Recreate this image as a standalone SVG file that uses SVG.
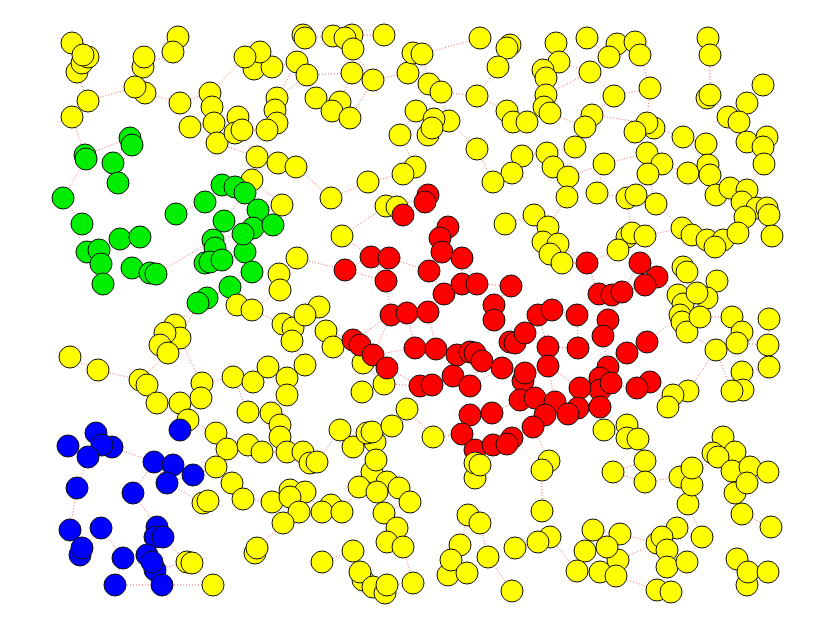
<svg xmlns="http://www.w3.org/2000/svg" width="830" height="640" viewBox="0 0 830 640">
<style>
circle{stroke:#111;stroke-width:1}
.y{fill:#ffff00}.g{fill:#00ee00}.r{fill:#ff0000}.b{fill:#0000ff}
.e{fill:none;stroke:#ff0000;stroke-width:1;stroke-dasharray:1 2;opacity:0.6}
</style>
<rect width="830" height="640" fill="#fff"/>
<g id="connectors">
<path class="e" d="M77 72L88 101M88 101L72 117M88 101L135 87M145 93L180 103M144 57L135 87M173 52L178 37M180 103L210 93M145 93L143 67M72 117L85 155M85 155L130 138M113 163L130 138M86 159L63 198M63 198L82 224M130 138L118 183M118 183L113 163M245 57L210 93M254 69L272 67M272 67L297 62M260 52L245 57M277 98L297 62M277 98L307 75M214 123L238 117M242 130L267 130M217 143L257 157M257 157L278 163M278 163L296 167M252 180L257 157M252 180L282 205M282 205L258 210M222 185L252 180M205 202L222 185M176 214L205 202M224 221L245 193M235 187L258 210M305 38L333 36M352 35L384 35M353 49L373 80M307 75L352 73M316 98L340 102M350 118L373 80M297 62L307 75M373 80L408 73M408 73L413 53M422 54L480 38M429 84L441 92M441 92L477 96M416 111L400 135M449 121L477 149M477 96L498 67M498 67L507 48M513 122L527 122M527 122L544 107M477 149L493 182M522 156L547 153M512 173L493 182M296 167L331 198M331 198L368 182M368 182L403 174M415 167L400 135M386 206L342 236M397 207L428 195M556 43L559 62M559 62L590 72M587 38L609 57M609 57L617 44M640 55L650 88M590 72L614 96M614 96L592 115M546 95L590 72M592 115L647 123M650 88L647 123M683 137L706 144M710 55L710 95M710 95L728 117M739 122L747 142M747 103L763 85M575 147L592 115M547 153L575 147M604 164L647 153M662 164L688 173M708 165L683 137M764 164L747 142M568 177L604 164M597 193L627 198M656 204L648 174M716 195L730 188M742 202L716 195M567 197L548 227M627 198L632 233M656 204L682 228M120 239L140 237M87 252L120 239M101 264L103 284M132 268L150 273M156 274L213 240M213 240L243 234M222 260L245 252M252 272L245 252M230 287L252 272M207 298L230 287M198 303L175 325M273 225L243 234M279 274L297 258M280 290L252 310M237 305L252 310M252 310L283 324M283 324L305 315M292 341L305 365M180 338L201 383M168 353L140 380M70 357L98 370M98 370L140 380M147 385L157 403M202 383L233 377M253 382L268 367M287 378L305 365M287 395L271 413M201 398L188 420M180 403L157 403M233 377L248 412M342 236L371 257M345 270L371 257M389 258L429 271M386 281L391 315M407 313L428 312M444 294L462 284M477 284L511 286M494 305L494 320M462 258L462 284M440 238L448 227M505 224L534 215M353 340L326 331M373 355L415 348M436 349L457 355M482 361L502 368M453 376L470 386M420 386L432 385M502 368L525 373M510 342L525 333M538 315L552 310M523 381L535 398M363 363L384 384M362 392L384 384M384 384L420 386M407 409L392 426M428 312L444 294M494 320L510 342M391 315L353 340M333 347L353 340M319 307L305 315M345 270L297 258M548 227L543 242M558 244L587 263M562 263L587 263M618 250L587 263M645 236L682 228M692 235L707 240M723 240L738 233M745 217L738 233M683 267L687 272M717 281L697 293M678 295L657 277M687 332L716 350M732 317L742 332M769 319L769 345M769 367L742 372M743 390L732 391M688 391L673 395M668 407L650 382M640 263L657 277M599 294L622 292M577 315L552 310M608 320L603 336M647 342L627 353M578 348L548 347M608 367L600 378M611 383L637 388M600 390L580 388M600 407L578 408M555 402L548 366M680 315L647 342M700 317L732 317M716 350L737 343M68 446L88 457M96 433L102 445M77 488L88 457M154 462L173 465M167 483L193 475M133 493L154 462M180 430L188 420M70 530L77 488M101 528L82 548M123 558L147 555M157 527L163 537M115 585L162 585M162 585L213 585M155 570L187 562M193 475L216 467M216 433L227 449M232 483L243 499M203 503L167 483M280 425L280 437M248 445L262 452M287 452L303 452M317 462L340 430M353 447L367 433M375 442L392 426M376 460L372 472M359 487L377 492M399 488L410 502M384 513L397 528M387 542L403 547M272 502L290 490M305 492L322 512M331 505L342 512M299 512L283 523M257 548L283 523M322 562L353 551M360 572L373 587M387 585L413 583M433 437L462 434M475 463L475 478M468 515L480 523M460 545L451 560M467 573L488 557M515 548L537 542M512 591L488 557M342 512L359 487M433 437L407 409M549 461L542 470M542 511L542 470M550 537L577 571M604 430L627 425M638 439L645 461M645 482L613 472M593 530L620 534M585 551L607 547M600 572L616 576M657 590L671 592M662 537L677 528M667 567L687 562M702 537L688 504M680 477L692 468M692 485L713 453M723 437L735 452M732 471L750 467M768 472L747 483M735 493L742 514M771 527L742 514M737 559L748 572M747 585L768 572M618 560L657 543M645 482L680 477M620 534L657 543"/>
<path class="e" d="M345 270L386 281M371 257L386 281M429 271L444 294M442 252L462 258M462 258L477 284M511 286L494 305M407 313L415 348M428 312L436 349M391 315L373 355M387 368L420 386M457 355L453 376M470 386L502 368M482 361L470 386M525 333L538 315M538 315L548 347M548 347L548 366M548 366L580 388M577 315L578 348M603 336L608 367M627 353L608 367M637 388L650 382M599 294L587 263M622 292L640 263M645 285L622 292M608 320L622 292M523 381L548 366M535 398L545 415M555 402L568 414M600 407L611 383M470 415L492 413M462 434L470 415M475 450L493 445M512 438L533 427M492 413L520 400M453 376L432 385M420 386L407 409M403 215L428 195M440 238L429 271M549 461L533 427M604 430L600 407M475 463L475 450M143 67L173 52M190 127L214 123M210 93L212 107M316 98L297 62M332 111L350 118M340 102L352 73M422 54L429 84M416 111L434 119M449 121L441 92M507 111L477 96M507 111L513 122M522 156L512 173M547 153L553 167M568 177L567 197M597 193L604 164M636 195L648 174M688 173L710 175M710 175L730 188M747 190L764 164M757 208L767 208M614 96L650 88M617 44L635 42M559 62L546 78M543 70L546 95M546 95L544 107M550 113L585 127M585 127L575 147M635 132L647 153M654 128L683 137M706 144L708 165M728 117L747 103M708 38L710 55M543 242L550 254M550 254L562 263M618 250L627 237M632 233L645 236M682 228L692 235M707 240L715 247M715 247L723 240M683 267L678 295M697 293L707 298M683 304L680 315M682 322L687 332M700 317L687 332M742 332L737 343M737 343L768 345M742 372L743 390M732 391L716 350M688 391L716 350M668 407L673 395M717 281L707 298M279 274L280 290M292 341L283 324M175 325L165 333M160 345L168 353M180 338L198 303M140 380L147 385M157 403L147 385M202 383L201 398M233 377L253 382M268 367L287 378M287 378L287 395M248 412L271 413M271 413L280 425M280 437L287 452M262 452L287 452M303 452L310 463M340 430L353 447M372 432L375 442M375 442L376 460M372 472L359 487M377 492L387 482M387 482L399 488M410 502L384 513M397 528L387 542M290 497L299 512M299 512L322 512M283 523L322 512M353 551L360 572M363 580L373 587M403 547L413 583M451 560L448 575M460 545L468 515M480 523L488 557M627 438L638 439M604 430L627 438M613 472L645 461M645 461L645 482M593 530L585 551M607 547L618 560M577 571L600 572M616 576L657 590M667 550L667 567M687 562L702 537M688 504L692 485M692 468L713 453M718 457L735 452M735 452L750 467M747 483L735 493M768 472L750 467M742 514L735 493M737 559L747 585M102 445L112 447M112 447L154 462M173 465L193 475M154 462L167 483M101 528L123 558M123 558L115 585M147 555L152 562M157 527L133 493M163 537L187 562M192 563L213 585M188 420L216 433M216 467L232 483M243 499L272 502M227 449L248 445"/>
</g>
<g id="nodes">
<g id="n1"><circle class="y" r="11" cx="72" cy="43"/></g>
<g id="n2"><circle class="y" r="11" cx="77" cy="72"/></g>
<g id="n3"><circle class="y" r="11" cx="82" cy="63"/></g>
<g id="n4"><circle class="y" r="11" cx="88" cy="57"/></g>
<g id="n5"><circle class="y" r="11" cx="83" cy="55"/></g>
<g id="n6"><circle class="y" r="11" cx="88" cy="101"/></g>
<g id="n7"><circle class="y" r="11" cx="72" cy="117"/></g>
<g id="n8"><circle class="y" r="11" cx="143" cy="67"/></g>
<g id="n9"><circle class="y" r="11" cx="144" cy="57"/></g>
<g id="n10"><circle class="y" r="11" cx="145" cy="93"/></g>
<g id="n11"><circle class="y" r="11" cx="135" cy="87"/></g>
<g id="n12"><circle class="y" r="11" cx="178" cy="37"/></g>
<g id="n13"><circle class="y" r="11" cx="173" cy="52"/></g>
<g id="n14"><circle class="y" r="11" cx="180" cy="103"/></g>
<g id="n15"><circle class="y" r="11" cx="254" cy="69"/></g>
<g id="n16"><circle class="y" r="11" cx="272" cy="67"/></g>
<g id="n17"><circle class="y" r="11" cx="260" cy="52"/></g>
<g id="n18"><circle class="y" r="11" cx="245" cy="57"/></g>
<g id="n19"><circle class="y" r="11" cx="210" cy="93"/></g>
<g id="n20"><circle class="y" r="11" cx="212" cy="107"/></g>
<g id="n21"><circle class="y" r="11" cx="190" cy="127"/></g>
<g id="n22"><circle class="y" r="11" cx="214" cy="123"/></g>
<g id="n23"><circle class="y" r="11" cx="217" cy="143"/></g>
<g id="n24"><circle class="y" r="11" cx="238" cy="117"/></g>
<g id="n25"><circle class="y" r="11" cx="235" cy="133"/></g>
<g id="n26"><circle class="y" r="11" cx="242" cy="130"/></g>
<g id="n27"><circle class="y" r="11" cx="277" cy="98"/></g>
<g id="n28"><circle class="y" r="11" cx="275" cy="110"/></g>
<g id="n29"><circle class="y" r="11" cx="277" cy="123"/></g>
<g id="n30"><circle class="y" r="11" cx="267" cy="130"/></g>
<g id="n31"><circle class="y" r="11" cx="257" cy="157"/></g>
<g id="n32"><circle class="y" r="11" cx="278" cy="163"/></g>
<g id="n33"><circle class="y" r="11" cx="252" cy="180"/></g>
<g id="n34"><circle class="y" r="11" cx="282" cy="205"/></g>
<g id="n35"><circle class="g" r="11" cx="130" cy="138"/></g>
<g id="n36"><circle class="g" r="11" cx="132" cy="145"/></g>
<g id="n37"><circle class="g" r="11" cx="85" cy="155"/></g>
<g id="n38"><circle class="g" r="11" cx="86" cy="159"/></g>
<g id="n39"><circle class="g" r="11" cx="113" cy="163"/></g>
<g id="n40"><circle class="g" r="11" cx="118" cy="183"/></g>
<g id="n41"><circle class="g" r="11" cx="63" cy="198"/></g>
<g id="n42"><circle class="g" r="11" cx="82" cy="224"/></g>
<g id="n43"><circle class="g" r="11" cx="222" cy="185"/></g>
<g id="n44"><circle class="g" r="11" cx="235" cy="187"/></g>
<g id="n45"><circle class="g" r="11" cx="245" cy="193"/></g>
<g id="n46"><circle class="g" r="11" cx="205" cy="202"/></g>
<g id="n47"><circle class="g" r="11" cx="176" cy="214"/></g>
<g id="n48"><circle class="g" r="11" cx="224" cy="221"/></g>
<g id="n49"><circle class="g" r="11" cx="258" cy="210"/></g>
<g id="n50"><circle class="y" r="11" cx="303" cy="35"/></g>
<g id="n51"><circle class="y" r="11" cx="305" cy="38"/></g>
<g id="n52"><circle class="y" r="11" cx="333" cy="36"/></g>
<g id="n53"><circle class="y" r="11" cx="352" cy="35"/></g>
<g id="n54"><circle class="y" r="11" cx="345" cy="38"/></g>
<g id="n55"><circle class="y" r="11" cx="353" cy="49"/></g>
<g id="n56"><circle class="y" r="11" cx="384" cy="35"/></g>
<g id="n57"><circle class="y" r="11" cx="297" cy="62"/></g>
<g id="n58"><circle class="y" r="11" cx="307" cy="75"/></g>
<g id="n59"><circle class="y" r="11" cx="352" cy="73"/></g>
<g id="n60"><circle class="y" r="11" cx="373" cy="80"/></g>
<g id="n61"><circle class="y" r="11" cx="316" cy="98"/></g>
<g id="n62"><circle class="y" r="11" cx="340" cy="102"/></g>
<g id="n63"><circle class="y" r="11" cx="332" cy="111"/></g>
<g id="n64"><circle class="y" r="11" cx="350" cy="118"/></g>
<g id="n65"><circle class="y" r="11" cx="408" cy="73"/></g>
<g id="n66"><circle class="y" r="11" cx="413" cy="53"/></g>
<g id="n67"><circle class="y" r="11" cx="422" cy="54"/></g>
<g id="n68"><circle class="y" r="11" cx="429" cy="84"/></g>
<g id="n69"><circle class="y" r="11" cx="441" cy="92"/></g>
<g id="n70"><circle class="y" r="11" cx="416" cy="111"/></g>
<g id="n71"><circle class="y" r="11" cx="449" cy="121"/></g>
<g id="n72"><circle class="y" r="11" cx="434" cy="119"/></g>
<g id="n73"><circle class="y" r="11" cx="428" cy="135"/></g>
<g id="n74"><circle class="y" r="11" cx="432" cy="128"/></g>
<g id="n75"><circle class="y" r="11" cx="400" cy="135"/></g>
<g id="n76"><circle class="y" r="11" cx="480" cy="38"/></g>
<g id="n77"><circle class="y" r="11" cx="510" cy="45"/></g>
<g id="n78"><circle class="y" r="11" cx="507" cy="48"/></g>
<g id="n79"><circle class="y" r="11" cx="498" cy="67"/></g>
<g id="n80"><circle class="y" r="11" cx="477" cy="96"/></g>
<g id="n81"><circle class="y" r="11" cx="507" cy="111"/></g>
<g id="n82"><circle class="y" r="11" cx="513" cy="122"/></g>
<g id="n83"><circle class="y" r="11" cx="527" cy="122"/></g>
<g id="n84"><circle class="y" r="11" cx="477" cy="149"/></g>
<g id="n85"><circle class="y" r="11" cx="522" cy="156"/></g>
<g id="n86"><circle class="y" r="11" cx="512" cy="173"/></g>
<g id="n87"><circle class="y" r="11" cx="493" cy="182"/></g>
<g id="n88"><circle class="y" r="11" cx="296" cy="167"/></g>
<g id="n89"><circle class="y" r="11" cx="368" cy="182"/></g>
<g id="n90"><circle class="y" r="11" cx="331" cy="198"/></g>
<g id="n91"><circle class="y" r="11" cx="415" cy="167"/></g>
<g id="n92"><circle class="y" r="11" cx="403" cy="174"/></g>
<g id="n93"><circle class="y" r="11" cx="386" cy="206"/></g>
<g id="n94"><circle class="y" r="11" cx="397" cy="207"/></g>
<g id="n95"><circle class="r" r="11" cx="428" cy="195"/></g>
<g id="n96"><circle class="r" r="11" cx="425" cy="202"/></g>
<g id="n97"><circle class="y" r="11" cx="556" cy="43"/></g>
<g id="n98"><circle class="y" r="11" cx="587" cy="38"/></g>
<g id="n99"><circle class="y" r="11" cx="617" cy="44"/></g>
<g id="n100"><circle class="y" r="11" cx="635" cy="42"/></g>
<g id="n101"><circle class="y" r="11" cx="640" cy="55"/></g>
<g id="n102"><circle class="y" r="11" cx="609" cy="57"/></g>
<g id="n103"><circle class="y" r="11" cx="559" cy="62"/></g>
<g id="n104"><circle class="y" r="11" cx="543" cy="70"/></g>
<g id="n105"><circle class="y" r="11" cx="546" cy="78"/></g>
<g id="n106"><circle class="y" r="11" cx="590" cy="72"/></g>
<g id="n107"><circle class="y" r="11" cx="708" cy="38"/></g>
<g id="n108"><circle class="y" r="11" cx="710" cy="55"/></g>
<g id="n109"><circle class="y" r="11" cx="763" cy="85"/></g>
<g id="n110"><circle class="y" r="11" cx="650" cy="88"/></g>
<g id="n111"><circle class="y" r="11" cx="546" cy="95"/></g>
<g id="n112"><circle class="y" r="11" cx="544" cy="107"/></g>
<g id="n113"><circle class="y" r="11" cx="550" cy="113"/></g>
<g id="n114"><circle class="y" r="11" cx="614" cy="96"/></g>
<g id="n115"><circle class="y" r="11" cx="707" cy="98"/></g>
<g id="n116"><circle class="y" r="11" cx="710" cy="95"/></g>
<g id="n117"><circle class="y" r="11" cx="747" cy="103"/></g>
<g id="n118"><circle class="y" r="11" cx="728" cy="117"/></g>
<g id="n119"><circle class="y" r="11" cx="739" cy="122"/></g>
<g id="n120"><circle class="y" r="11" cx="592" cy="115"/></g>
<g id="n121"><circle class="y" r="11" cx="585" cy="127"/></g>
<g id="n122"><circle class="y" r="11" cx="654" cy="128"/></g>
<g id="n123"><circle class="y" r="11" cx="647" cy="123"/></g>
<g id="n124"><circle class="y" r="11" cx="635" cy="132"/></g>
<g id="n125"><circle class="y" r="11" cx="683" cy="137"/></g>
<g id="n126"><circle class="y" r="11" cx="706" cy="144"/></g>
<g id="n127"><circle class="y" r="11" cx="747" cy="142"/></g>
<g id="n128"><circle class="y" r="11" cx="767" cy="137"/></g>
<g id="n129"><circle class="y" r="11" cx="763" cy="147"/></g>
<g id="n130"><circle class="y" r="11" cx="575" cy="147"/></g>
<g id="n131"><circle class="y" r="11" cx="547" cy="153"/></g>
<g id="n132"><circle class="y" r="11" cx="553" cy="167"/></g>
<g id="n133"><circle class="y" r="11" cx="604" cy="164"/></g>
<g id="n134"><circle class="y" r="11" cx="647" cy="153"/></g>
<g id="n135"><circle class="y" r="11" cx="662" cy="164"/></g>
<g id="n136"><circle class="y" r="11" cx="648" cy="174"/></g>
<g id="n137"><circle class="y" r="11" cx="688" cy="173"/></g>
<g id="n138"><circle class="y" r="11" cx="708" cy="165"/></g>
<g id="n139"><circle class="y" r="11" cx="710" cy="175"/></g>
<g id="n140"><circle class="y" r="11" cx="764" cy="164"/></g>
<g id="n141"><circle class="y" r="11" cx="568" cy="177"/></g>
<g id="n142"><circle class="y" r="11" cx="567" cy="197"/></g>
<g id="n143"><circle class="y" r="11" cx="597" cy="193"/></g>
<g id="n144"><circle class="y" r="11" cx="627" cy="198"/></g>
<g id="n145"><circle class="y" r="11" cx="636" cy="195"/></g>
<g id="n146"><circle class="y" r="11" cx="656" cy="204"/></g>
<g id="n147"><circle class="y" r="11" cx="716" cy="195"/></g>
<g id="n148"><circle class="y" r="11" cx="730" cy="188"/></g>
<g id="n149"><circle class="y" r="11" cx="747" cy="190"/></g>
<g id="n150"><circle class="y" r="11" cx="742" cy="202"/></g>
<g id="n151"><circle class="y" r="11" cx="757" cy="208"/></g>
<g id="n152"><circle class="y" r="11" cx="767" cy="208"/></g>
<g id="n153"><circle class="y" r="11" cx="769" cy="215"/></g>
<g id="n154"><circle class="y" r="11" cx="745" cy="217"/></g>
<g id="n155"><circle class="y" r="11" cx="534" cy="215"/></g>
<g id="n156"><circle class="y" r="11" cx="548" cy="227"/></g>
<g id="n157"><circle class="g" r="11" cx="120" cy="239"/></g>
<g id="n158"><circle class="g" r="11" cx="140" cy="237"/></g>
<g id="n159"><circle class="g" r="11" cx="87" cy="252"/></g>
<g id="n160"><circle class="g" r="11" cx="99" cy="250"/></g>
<g id="n161"><circle class="g" r="11" cx="101" cy="264"/></g>
<g id="n162"><circle class="g" r="11" cx="103" cy="284"/></g>
<g id="n163"><circle class="g" r="11" cx="132" cy="268"/></g>
<g id="n164"><circle class="g" r="11" cx="150" cy="273"/></g>
<g id="n165"><circle class="g" r="11" cx="156" cy="274"/></g>
<g id="n166"><circle class="g" r="11" cx="213" cy="240"/></g>
<g id="n167"><circle class="g" r="11" cx="215" cy="248"/></g>
<g id="n168"><circle class="g" r="11" cx="205" cy="263"/></g>
<g id="n169"><circle class="g" r="11" cx="210" cy="262"/></g>
<g id="n170"><circle class="g" r="11" cx="222" cy="260"/></g>
<g id="n171"><circle class="g" r="11" cx="245" cy="252"/></g>
<g id="n172"><circle class="g" r="11" cx="253" cy="228"/></g>
<g id="n173"><circle class="g" r="11" cx="243" cy="234"/></g>
<g id="n174"><circle class="g" r="11" cx="252" cy="272"/></g>
<g id="n175"><circle class="g" r="11" cx="230" cy="287"/></g>
<g id="n176"><circle class="g" r="11" cx="207" cy="298"/></g>
<g id="n177"><circle class="g" r="11" cx="198" cy="303"/></g>
<g id="n178"><circle class="g" r="11" cx="273" cy="225"/></g>
<g id="n179"><circle class="y" r="11" cx="297" cy="258"/></g>
<g id="n180"><circle class="y" r="11" cx="279" cy="274"/></g>
<g id="n181"><circle class="y" r="11" cx="280" cy="290"/></g>
<g id="n182"><circle class="y" r="11" cx="237" cy="305"/></g>
<g id="n183"><circle class="y" r="11" cx="252" cy="310"/></g>
<g id="n184"><circle class="y" r="11" cx="283" cy="324"/></g>
<g id="n185"><circle class="y" r="11" cx="293" cy="328"/></g>
<g id="n186"><circle class="y" r="11" cx="292" cy="341"/></g>
<g id="n187"><circle class="y" r="11" cx="175" cy="325"/></g>
<g id="n188"><circle class="y" r="11" cx="180" cy="338"/></g>
<g id="n189"><circle class="y" r="11" cx="165" cy="333"/></g>
<g id="n190"><circle class="y" r="11" cx="160" cy="345"/></g>
<g id="n191"><circle class="y" r="11" cx="168" cy="353"/></g>
<g id="n192"><circle class="y" r="11" cx="70" cy="357"/></g>
<g id="n193"><circle class="y" r="11" cx="98" cy="370"/></g>
<g id="n194"><circle class="y" r="11" cx="140" cy="380"/></g>
<g id="n195"><circle class="y" r="11" cx="147" cy="385"/></g>
<g id="n196"><circle class="y" r="11" cx="202" cy="383"/></g>
<g id="n197"><circle class="y" r="11" cx="201" cy="398"/></g>
<g id="n198"><circle class="y" r="11" cx="233" cy="377"/></g>
<g id="n199"><circle class="y" r="11" cx="253" cy="382"/></g>
<g id="n200"><circle class="y" r="11" cx="268" cy="367"/></g>
<g id="n201"><circle class="y" r="11" cx="287" cy="378"/></g>
<g id="n202"><circle class="y" r="11" cx="287" cy="395"/></g>
<g id="n203"><circle class="y" r="11" cx="157" cy="403"/></g>
<g id="n204"><circle class="y" r="11" cx="180" cy="403"/></g>
<g id="n205"><circle class="y" r="11" cx="188" cy="420"/></g>
<g id="n206"><circle class="y" r="11" cx="248" cy="412"/></g>
<g id="n207"><circle class="y" r="11" cx="271" cy="413"/></g>
<g id="n208"><circle class="y" r="11" cx="342" cy="236"/></g>
<g id="n209"><circle class="y" r="11" cx="319" cy="307"/></g>
<g id="n210"><circle class="y" r="11" cx="305" cy="315"/></g>
<g id="n211"><circle class="y" r="11" cx="326" cy="331"/></g>
<g id="n212"><circle class="y" r="11" cx="333" cy="347"/></g>
<g id="n213"><circle class="y" r="11" cx="305" cy="365"/></g>
<g id="n214"><circle class="y" r="11" cx="363" cy="363"/></g>
<g id="n215"><circle class="y" r="11" cx="384" cy="384"/></g>
<g id="n216"><circle class="y" r="11" cx="362" cy="392"/></g>
<g id="n217"><circle class="y" r="11" cx="407" cy="409"/></g>
<g id="n218"><circle class="y" r="11" cx="505" cy="224"/></g>
<g id="n219"><circle class="r" r="11" cx="403" cy="215"/></g>
<g id="n220"><circle class="r" r="11" cx="448" cy="227"/></g>
<g id="n221"><circle class="r" r="11" cx="440" cy="238"/></g>
<g id="n222"><circle class="r" r="11" cx="442" cy="252"/></g>
<g id="n223"><circle class="r" r="11" cx="462" cy="258"/></g>
<g id="n224"><circle class="r" r="11" cx="371" cy="257"/></g>
<g id="n225"><circle class="r" r="11" cx="389" cy="258"/></g>
<g id="n226"><circle class="r" r="11" cx="345" cy="270"/></g>
<g id="n227"><circle class="r" r="11" cx="386" cy="281"/></g>
<g id="n228"><circle class="r" r="11" cx="429" cy="271"/></g>
<g id="n229"><circle class="r" r="11" cx="444" cy="294"/></g>
<g id="n230"><circle class="r" r="11" cx="462" cy="284"/></g>
<g id="n231"><circle class="r" r="11" cx="477" cy="284"/></g>
<g id="n232"><circle class="r" r="11" cx="511" cy="286"/></g>
<g id="n233"><circle class="r" r="11" cx="391" cy="315"/></g>
<g id="n234"><circle class="r" r="11" cx="407" cy="313"/></g>
<g id="n235"><circle class="r" r="11" cx="428" cy="312"/></g>
<g id="n236"><circle class="r" r="11" cx="494" cy="305"/></g>
<g id="n237"><circle class="r" r="11" cx="494" cy="320"/></g>
<g id="n238"><circle class="r" r="11" cx="353" cy="340"/></g>
<g id="n239"><circle class="r" r="11" cx="360" cy="345"/></g>
<g id="n240"><circle class="r" r="11" cx="373" cy="355"/></g>
<g id="n241"><circle class="r" r="11" cx="387" cy="368"/></g>
<g id="n242"><circle class="r" r="11" cx="415" cy="348"/></g>
<g id="n243"><circle class="r" r="11" cx="436" cy="349"/></g>
<g id="n244"><circle class="r" r="11" cx="457" cy="355"/></g>
<g id="n245"><circle class="r" r="11" cx="470" cy="352"/></g>
<g id="n246"><circle class="r" r="11" cx="475" cy="353"/></g>
<g id="n247"><circle class="r" r="11" cx="482" cy="361"/></g>
<g id="n248"><circle class="r" r="11" cx="453" cy="376"/></g>
<g id="n249"><circle class="r" r="11" cx="470" cy="386"/></g>
<g id="n250"><circle class="r" r="11" cx="420" cy="386"/></g>
<g id="n251"><circle class="r" r="11" cx="432" cy="385"/></g>
<g id="n252"><circle class="r" r="11" cx="502" cy="368"/></g>
<g id="n253"><circle class="r" r="11" cx="510" cy="342"/></g>
<g id="n254"><circle class="r" r="11" cx="515" cy="343"/></g>
<g id="n255"><circle class="r" r="11" cx="525" cy="333"/></g>
<g id="n256"><circle class="r" r="11" cx="538" cy="315"/></g>
<g id="n257"><circle class="r" r="11" cx="523" cy="381"/></g>
<g id="n258"><circle class="r" r="11" cx="525" cy="373"/></g>
<g id="n259"><circle class="r" r="11" cx="520" cy="400"/></g>
<g id="n260"><circle class="r" r="11" cx="535" cy="398"/></g>
<g id="n261"><circle class="y" r="11" cx="543" cy="242"/></g>
<g id="n262"><circle class="y" r="11" cx="558" cy="244"/></g>
<g id="n263"><circle class="y" r="11" cx="550" cy="254"/></g>
<g id="n264"><circle class="y" r="11" cx="562" cy="263"/></g>
<g id="n265"><circle class="y" r="11" cx="627" cy="237"/></g>
<g id="n266"><circle class="y" r="11" cx="618" cy="250"/></g>
<g id="n267"><circle class="y" r="11" cx="632" cy="233"/></g>
<g id="n268"><circle class="y" r="11" cx="645" cy="236"/></g>
<g id="n269"><circle class="y" r="11" cx="682" cy="228"/></g>
<g id="n270"><circle class="y" r="11" cx="692" cy="235"/></g>
<g id="n271"><circle class="y" r="11" cx="707" cy="240"/></g>
<g id="n272"><circle class="y" r="11" cx="723" cy="240"/></g>
<g id="n273"><circle class="y" r="11" cx="715" cy="247"/></g>
<g id="n274"><circle class="y" r="11" cx="738" cy="233"/></g>
<g id="n275"><circle class="y" r="11" cx="772" cy="236"/></g>
<g id="n276"><circle class="y" r="11" cx="683" cy="267"/></g>
<g id="n277"><circle class="y" r="11" cx="687" cy="272"/></g>
<g id="n278"><circle class="y" r="11" cx="717" cy="281"/></g>
<g id="n279"><circle class="y" r="11" cx="678" cy="295"/></g>
<g id="n280"><circle class="y" r="11" cx="683" cy="304"/></g>
<g id="n281"><circle class="y" r="11" cx="680" cy="315"/></g>
<g id="n282"><circle class="y" r="11" cx="682" cy="322"/></g>
<g id="n283"><circle class="y" r="11" cx="687" cy="332"/></g>
<g id="n284"><circle class="y" r="11" cx="707" cy="298"/></g>
<g id="n285"><circle class="y" r="11" cx="697" cy="293"/></g>
<g id="n286"><circle class="y" r="11" cx="700" cy="317"/></g>
<g id="n287"><circle class="y" r="11" cx="732" cy="317"/></g>
<g id="n288"><circle class="y" r="11" cx="742" cy="332"/></g>
<g id="n289"><circle class="y" r="11" cx="737" cy="343"/></g>
<g id="n290"><circle class="y" r="11" cx="716" cy="350"/></g>
<g id="n291"><circle class="y" r="11" cx="769" cy="319"/></g>
<g id="n292"><circle class="y" r="11" cx="768" cy="345"/></g>
<g id="n293"><circle class="y" r="11" cx="769" cy="367"/></g>
<g id="n294"><circle class="y" r="11" cx="742" cy="372"/></g>
<g id="n295"><circle class="y" r="11" cx="743" cy="390"/></g>
<g id="n296"><circle class="y" r="11" cx="732" cy="391"/></g>
<g id="n297"><circle class="y" r="11" cx="688" cy="391"/></g>
<g id="n298"><circle class="y" r="11" cx="673" cy="395"/></g>
<g id="n299"><circle class="y" r="11" cx="668" cy="407"/></g>
<g id="n300"><circle class="r" r="11" cx="587" cy="263"/></g>
<g id="n301"><circle class="r" r="11" cx="640" cy="263"/></g>
<g id="n302"><circle class="r" r="11" cx="657" cy="277"/></g>
<g id="n303"><circle class="r" r="11" cx="645" cy="285"/></g>
<g id="n304"><circle class="r" r="11" cx="599" cy="294"/></g>
<g id="n305"><circle class="r" r="11" cx="612" cy="295"/></g>
<g id="n306"><circle class="r" r="11" cx="622" cy="292"/></g>
<g id="n307"><circle class="r" r="11" cx="552" cy="310"/></g>
<g id="n308"><circle class="r" r="11" cx="577" cy="315"/></g>
<g id="n309"><circle class="r" r="11" cx="608" cy="320"/></g>
<g id="n310"><circle class="r" r="11" cx="603" cy="336"/></g>
<g id="n311"><circle class="r" r="11" cx="647" cy="342"/></g>
<g id="n312"><circle class="r" r="11" cx="627" cy="353"/></g>
<g id="n313"><circle class="r" r="11" cx="578" cy="348"/></g>
<g id="n314"><circle class="r" r="11" cx="548" cy="347"/></g>
<g id="n315"><circle class="r" r="11" cx="548" cy="366"/></g>
<g id="n316"><circle class="r" r="11" cx="608" cy="367"/></g>
<g id="n317"><circle class="r" r="11" cx="600" cy="378"/></g>
<g id="n318"><circle class="r" r="11" cx="600" cy="390"/></g>
<g id="n319"><circle class="r" r="11" cx="611" cy="383"/></g>
<g id="n320"><circle class="r" r="11" cx="580" cy="388"/></g>
<g id="n321"><circle class="r" r="11" cx="650" cy="382"/></g>
<g id="n322"><circle class="r" r="11" cx="637" cy="388"/></g>
<g id="n323"><circle class="r" r="11" cx="600" cy="407"/></g>
<g id="n324"><circle class="r" r="11" cx="555" cy="402"/></g>
<g id="n325"><circle class="r" r="11" cx="545" cy="415"/></g>
<g id="n326"><circle class="r" r="11" cx="578" cy="408"/></g>
<g id="n327"><circle class="r" r="11" cx="568" cy="414"/></g>
<g id="n328"><circle class="r" r="11" cx="533" cy="427"/></g>
<g id="n329"><circle class="r" r="11" cx="470" cy="415"/></g>
<g id="n330"><circle class="r" r="11" cx="492" cy="413"/></g>
<g id="n331"><circle class="r" r="11" cx="462" cy="434"/></g>
<g id="n332"><circle class="r" r="11" cx="475" cy="450"/></g>
<g id="n333"><circle class="r" r="11" cx="493" cy="445"/></g>
<g id="n334"><circle class="r" r="11" cx="512" cy="438"/></g>
<g id="n335"><circle class="r" r="11" cx="507" cy="444"/></g>
<g id="n336"><circle class="y" r="11" cx="216" cy="433"/></g>
<g id="n337"><circle class="y" r="11" cx="227" cy="449"/></g>
<g id="n338"><circle class="y" r="11" cx="216" cy="467"/></g>
<g id="n339"><circle class="y" r="11" cx="232" cy="483"/></g>
<g id="n340"><circle class="y" r="11" cx="203" cy="503"/></g>
<g id="n341"><circle class="y" r="11" cx="208" cy="501"/></g>
<g id="n342"><circle class="y" r="11" cx="243" cy="499"/></g>
<g id="n343"><circle class="y" r="11" cx="187" cy="562"/></g>
<g id="n344"><circle class="y" r="11" cx="192" cy="563"/></g>
<g id="n345"><circle class="y" r="11" cx="213" cy="585"/></g>
<g id="n346"><circle class="b" r="11" cx="68" cy="446"/></g>
<g id="n347"><circle class="b" r="11" cx="96" cy="433"/></g>
<g id="n348"><circle class="b" r="11" cx="112" cy="447"/></g>
<g id="n349"><circle class="b" r="11" cx="102" cy="445"/></g>
<g id="n350"><circle class="b" r="11" cx="88" cy="457"/></g>
<g id="n351"><circle class="b" r="11" cx="77" cy="488"/></g>
<g id="n352"><circle class="b" r="11" cx="154" cy="462"/></g>
<g id="n353"><circle class="b" r="11" cx="173" cy="465"/></g>
<g id="n354"><circle class="b" r="11" cx="167" cy="483"/></g>
<g id="n355"><circle class="b" r="11" cx="193" cy="475"/></g>
<g id="n356"><circle class="b" r="11" cx="133" cy="493"/></g>
<g id="n357"><circle class="b" r="11" cx="180" cy="430"/></g>
<g id="n358"><circle class="b" r="11" cx="70" cy="530"/></g>
<g id="n359"><circle class="b" r="11" cx="101" cy="528"/></g>
<g id="n360"><circle class="b" r="11" cx="80" cy="555"/></g>
<g id="n361"><circle class="b" r="11" cx="82" cy="548"/></g>
<g id="n362"><circle class="b" r="11" cx="123" cy="558"/></g>
<g id="n363"><circle class="b" r="11" cx="157" cy="527"/></g>
<g id="n364"><circle class="b" r="11" cx="155" cy="537"/></g>
<g id="n365"><circle class="b" r="11" cx="163" cy="537"/></g>
<g id="n366"><circle class="b" r="11" cx="147" cy="555"/></g>
<g id="n367"><circle class="b" r="11" cx="155" cy="570"/></g>
<g id="n368"><circle class="b" r="11" cx="152" cy="562"/></g>
<g id="n369"><circle class="b" r="11" cx="115" cy="585"/></g>
<g id="n370"><circle class="b" r="11" cx="162" cy="585"/></g>
<g id="n371"><circle class="y" r="11" cx="280" cy="425"/></g>
<g id="n372"><circle class="y" r="11" cx="280" cy="437"/></g>
<g id="n373"><circle class="y" r="11" cx="248" cy="445"/></g>
<g id="n374"><circle class="y" r="11" cx="262" cy="452"/></g>
<g id="n375"><circle class="y" r="11" cx="287" cy="452"/></g>
<g id="n376"><circle class="y" r="11" cx="303" cy="452"/></g>
<g id="n377"><circle class="y" r="11" cx="310" cy="463"/></g>
<g id="n378"><circle class="y" r="11" cx="317" cy="462"/></g>
<g id="n379"><circle class="y" r="11" cx="340" cy="430"/></g>
<g id="n380"><circle class="y" r="11" cx="353" cy="447"/></g>
<g id="n381"><circle class="y" r="11" cx="375" cy="442"/></g>
<g id="n382"><circle class="y" r="11" cx="367" cy="433"/></g>
<g id="n383"><circle class="y" r="11" cx="372" cy="432"/></g>
<g id="n384"><circle class="y" r="11" cx="392" cy="426"/></g>
<g id="n385"><circle class="y" r="11" cx="372" cy="472"/></g>
<g id="n386"><circle class="y" r="11" cx="376" cy="460"/></g>
<g id="n387"><circle class="y" r="11" cx="359" cy="487"/></g>
<g id="n388"><circle class="y" r="11" cx="387" cy="482"/></g>
<g id="n389"><circle class="y" r="11" cx="377" cy="492"/></g>
<g id="n390"><circle class="y" r="11" cx="399" cy="488"/></g>
<g id="n391"><circle class="y" r="11" cx="410" cy="502"/></g>
<g id="n392"><circle class="y" r="11" cx="384" cy="513"/></g>
<g id="n393"><circle class="y" r="11" cx="397" cy="528"/></g>
<g id="n394"><circle class="y" r="11" cx="387" cy="542"/></g>
<g id="n395"><circle class="y" r="11" cx="403" cy="547"/></g>
<g id="n396"><circle class="y" r="11" cx="272" cy="502"/></g>
<g id="n397"><circle class="y" r="11" cx="290" cy="490"/></g>
<g id="n398"><circle class="y" r="11" cx="305" cy="492"/></g>
<g id="n399"><circle class="y" r="11" cx="290" cy="497"/></g>
<g id="n400"><circle class="y" r="11" cx="299" cy="512"/></g>
<g id="n401"><circle class="y" r="11" cx="331" cy="505"/></g>
<g id="n402"><circle class="y" r="11" cx="322" cy="512"/></g>
<g id="n403"><circle class="y" r="11" cx="342" cy="512"/></g>
<g id="n404"><circle class="y" r="11" cx="283" cy="523"/></g>
<g id="n405"><circle class="y" r="11" cx="255" cy="553"/></g>
<g id="n406"><circle class="y" r="11" cx="257" cy="548"/></g>
<g id="n407"><circle class="y" r="11" cx="322" cy="562"/></g>
<g id="n408"><circle class="y" r="11" cx="353" cy="551"/></g>
<g id="n409"><circle class="y" r="11" cx="363" cy="580"/></g>
<g id="n410"><circle class="y" r="11" cx="360" cy="572"/></g>
<g id="n411"><circle class="y" r="11" cx="373" cy="587"/></g>
<g id="n412"><circle class="y" r="11" cx="385" cy="593"/></g>
<g id="n413"><circle class="y" r="11" cx="387" cy="585"/></g>
<g id="n414"><circle class="y" r="11" cx="413" cy="583"/></g>
<g id="n415"><circle class="y" r="11" cx="433" cy="437"/></g>
<g id="n416"><circle class="y" r="11" cx="475" cy="478"/></g>
<g id="n417"><circle class="y" r="11" cx="475" cy="463"/></g>
<g id="n418"><circle class="y" r="11" cx="480" cy="465"/></g>
<g id="n419"><circle class="y" r="11" cx="468" cy="515"/></g>
<g id="n420"><circle class="y" r="11" cx="480" cy="523"/></g>
<g id="n421"><circle class="y" r="11" cx="460" cy="545"/></g>
<g id="n422"><circle class="y" r="11" cx="448" cy="575"/></g>
<g id="n423"><circle class="y" r="11" cx="451" cy="560"/></g>
<g id="n424"><circle class="y" r="11" cx="467" cy="573"/></g>
<g id="n425"><circle class="y" r="11" cx="488" cy="557"/></g>
<g id="n426"><circle class="y" r="11" cx="515" cy="548"/></g>
<g id="n427"><circle class="y" r="11" cx="512" cy="591"/></g>
<g id="n428"><circle class="y" r="11" cx="549" cy="461"/></g>
<g id="n429"><circle class="y" r="11" cx="542" cy="470"/></g>
<g id="n430"><circle class="y" r="11" cx="542" cy="511"/></g>
<g id="n431"><circle class="y" r="11" cx="550" cy="537"/></g>
<g id="n432"><circle class="y" r="11" cx="538" cy="542"/></g>
<g id="n433"><circle class="y" r="11" cx="604" cy="430"/></g>
<g id="n434"><circle class="y" r="11" cx="627" cy="425"/></g>
<g id="n435"><circle class="y" r="11" cx="627" cy="438"/></g>
<g id="n436"><circle class="y" r="11" cx="638" cy="439"/></g>
<g id="n437"><circle class="y" r="11" cx="645" cy="461"/></g>
<g id="n438"><circle class="y" r="11" cx="645" cy="482"/></g>
<g id="n439"><circle class="y" r="11" cx="613" cy="472"/></g>
<g id="n440"><circle class="y" r="11" cx="593" cy="530"/></g>
<g id="n441"><circle class="y" r="11" cx="620" cy="534"/></g>
<g id="n442"><circle class="y" r="11" cx="585" cy="551"/></g>
<g id="n443"><circle class="y" r="11" cx="618" cy="560"/></g>
<g id="n444"><circle class="y" r="11" cx="607" cy="547"/></g>
<g id="n445"><circle class="y" r="11" cx="577" cy="571"/></g>
<g id="n446"><circle class="y" r="11" cx="600" cy="572"/></g>
<g id="n447"><circle class="y" r="11" cx="616" cy="576"/></g>
<g id="n448"><circle class="y" r="11" cx="657" cy="590"/></g>
<g id="n449"><circle class="y" r="11" cx="671" cy="592"/></g>
<g id="n450"><circle class="y" r="11" cx="677" cy="528"/></g>
<g id="n451"><circle class="y" r="11" cx="657" cy="543"/></g>
<g id="n452"><circle class="y" r="11" cx="662" cy="537"/></g>
<g id="n453"><circle class="y" r="11" cx="667" cy="550"/></g>
<g id="n454"><circle class="y" r="11" cx="667" cy="567"/></g>
<g id="n455"><circle class="y" r="11" cx="687" cy="562"/></g>
<g id="n456"><circle class="y" r="11" cx="702" cy="537"/></g>
<g id="n457"><circle class="y" r="11" cx="680" cy="477"/></g>
<g id="n458"><circle class="y" r="11" cx="688" cy="504"/></g>
<g id="n459"><circle class="y" r="11" cx="692" cy="485"/></g>
<g id="n460"><circle class="y" r="11" cx="692" cy="468"/></g>
<g id="n461"><circle class="y" r="11" cx="723" cy="437"/></g>
<g id="n462"><circle class="y" r="11" cx="735" cy="452"/></g>
<g id="n463"><circle class="y" r="11" cx="713" cy="453"/></g>
<g id="n464"><circle class="y" r="11" cx="718" cy="457"/></g>
<g id="n465"><circle class="y" r="11" cx="732" cy="471"/></g>
<g id="n466"><circle class="y" r="11" cx="750" cy="467"/></g>
<g id="n467"><circle class="y" r="11" cx="768" cy="472"/></g>
<g id="n468"><circle class="y" r="11" cx="735" cy="493"/></g>
<g id="n469"><circle class="y" r="11" cx="747" cy="483"/></g>
<g id="n470"><circle class="y" r="11" cx="742" cy="514"/></g>
<g id="n471"><circle class="y" r="11" cx="771" cy="527"/></g>
<g id="n472"><circle class="y" r="11" cx="737" cy="559"/></g>
<g id="n473"><circle class="y" r="11" cx="747" cy="585"/></g>
<g id="n474"><circle class="y" r="11" cx="748" cy="572"/></g>
<g id="n475"><circle class="y" r="11" cx="768" cy="572"/></g>
</g>
</svg>
